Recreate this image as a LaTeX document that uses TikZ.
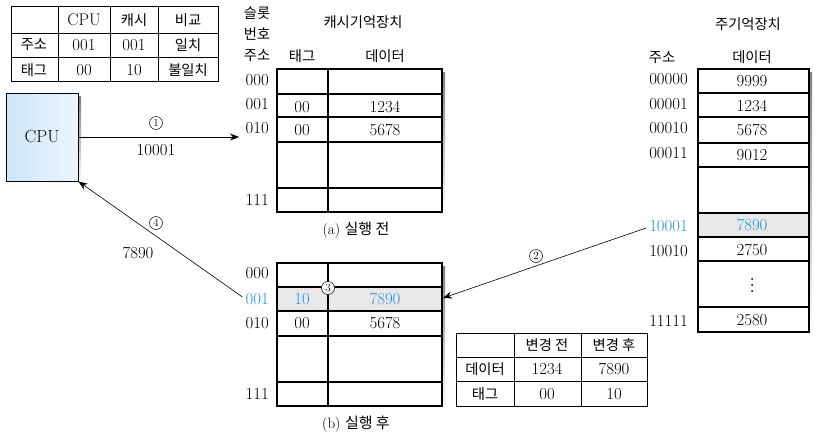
\documentclass[tikz,border=0pt]{standalone}
\usepackage{fontspec}
\newfontfamily\kr{Noto Sans CJK KR}
\usetikzlibrary{arrows.meta}
\definecolor{hl}{RGB}{40,150,220}
\definecolor{rowgray}{RGB}{232,232,232}
\definecolor{shade}{RGB}{205,205,205}
\definecolor{cpul}{RGB}{205,228,248}
\definecolor{cpur}{RGB}{236,245,253}
\begin{document}
\begin{tikzpicture}[x=1pt,y=-1pt,
  num/.style={font=\fontsize{16.8}{16.8}\selectfont, inner sep=0},
  ko/.style={font=\kr\fontsize{14.3}{14.3}\selectfont, inner sep=0},
  thin grid/.style={line width=0.8pt},
  thick grid/.style={line width=1.1pt},
  arr/.style={-{Stealth[length=9pt,width=7pt]}, line width=0.6pt},
  numc/.style={circle, draw, line width=0.5pt, inner sep=0, minimum size=13pt, font=\fontsize{11}{11}\selectfont},
  hlt/.style={text=hl}
]
\useasboundingbox (0,0) rectangle (817,437);

% ---------- top-left comparison table ----------
\draw[thin grid] (11,6) rectangle (218,81);
\draw[thin grid] (11,33) -- (218,33) (11,57) -- (218,57)
  (58,6) -- (58,81) (110,6) -- (110,81) (158,6) -- (158,81);
\node[num] (t1a) at (84,20) {CPU};
\node[ko]  (t1b) at (134,20) {캐시};
\node[ko]  (t1c) at (188,20) {비교};
\node[ko]  (t2a) at (34,45) {주소};
\node[num] (t2b) at (84,45) {001};
\node[num] (t2c) at (134,45) {001};
\node[ko]  (t2d) at (188,45) {일치};
\node[ko]  (t3a) at (34,70) {태그};
\node[num] (t3b) at (84,70) {00};
\node[num] (t3c) at (134,70) {10};
\node[ko]  (t3d) at (188,70) {불일치};

% ---------- CPU ----------
\fill[shade] (9,96) rectangle (81,184);
\node[draw, line width=1pt, left color=cpul, right color=cpur, minimum width=72pt, minimum height=88pt,
  inner sep=0, font=\fontsize{17.5}{17.5}\selectfont] (cpu) at (42,137) {CPU};

% ---------- cache (a) ----------
\node[ko] (slot1) at (257,13) {슬롯};
\node[ko] (slot2) at (257,34) {번호};
\node[ko] (ctitle) at (363,22) {캐시기억장치};
\node[ko] (caddr) at (257,56) {주소};
\node[ko] (ctag) at (302,56) {태그};
\node[ko] (cdata) at (385,56) {데이터};
\fill[shade] (280,72) rectangle (445,215);
\fill[white] (277,69) rectangle (442,212);
\draw[thick grid] (277,69) rectangle (442,212);
\draw[thick grid] (277,94) -- (442,94) (277,117) -- (442,117) (277,142) -- (442,142) (277,188) -- (442,188)
  (328,69) -- (328,212);
\node[num, anchor=east] (a000) at (269,80) {000};
\node[num, anchor=east] (a001) at (269,104) {001};
\node[num, anchor=east] (a010) at (269,128) {010};
\node[num, anchor=east] (a111) at (269,200) {111};
\node[num] (a1t) at (302,107) {00};
\node[num] (a1d) at (385,107) {1234};
\node[num] (a2t) at (302,130) {00};
\node[num] (a2d) at (385,130) {5678};
\node[font=\fontsize{15}{15}\selectfont, inner sep=0] (capa) at (356,230) {(a) {\kr 실행 전}};

% ---------- cache (b) ----------
\fill[shade] (280,266) rectangle (445,409);
\fill[white] (277,263) rectangle (442,406);
\fill[rowgray] (277,287) rectangle (442,311);
\draw[thick grid] (277,263) rectangle (442,406);
\draw[thick grid] (277,287) -- (442,287) (277,311) -- (442,311) (277,336) -- (442,336) (277,382) -- (442,382)
  (328,263) -- (328,406);
\node[num, anchor=east] (b000) at (269,273) {000};
\node[num, anchor=east, hlt] (b001) at (269,299) {001};
\node[num, anchor=east] (b010) at (269,323) {010};
\node[num, anchor=east] (b111) at (269,394) {111};
\node[num, hlt] (b1t) at (302,299) {10};
\node[num, hlt] (b1d) at (385,299) {7890};
\node[num] (b2t) at (302,323) {00};
\node[num] (b2d) at (385,323) {5678};
\node[numc, fill=white] (c3) at (328,288) {3};
\node[font=\fontsize{15}{15}\selectfont, inner sep=0] (capb) at (356,424) {(b) {\kr 실행 후}};
\coordinate (brow) at (443,298);

% ---------- main memory ----------
\node[ko] (mtitle) at (748,24) {주기억장치};
\node[ko] (maddr) at (662,58) {주소};
\node[ko] (mdata) at (752,57) {데이터};
\fill[shade] (701,72) rectangle (812,335);
\fill[white] (698,69) rectangle (809,332);
\fill[rowgray] (698,213) rectangle (809,237);
\draw[thick grid] (698,69) rectangle (809,332);
\draw[thick grid] (698,93) -- (809,93) (698,117) -- (809,117) (698,143) -- (809,143) (698,167) -- (809,167)
  (698,213) -- (809,213) (698,237) -- (809,237) (698,261) -- (809,261) (698,307) -- (809,307);
\node[num, anchor=east] (m0) at (688,79) {00000};
\node[num, anchor=east] (m1) at (688,104) {00001};
\node[num, anchor=east] (m2) at (688,128) {00010};
\node[num, anchor=east] (m3) at (688,153) {00011};
\node[num, anchor=east, hlt] (m17) at (688,226) {10001};
\node[num, anchor=east] (m18) at (688,251) {10010};
\node[num, anchor=east] (m31) at (688,321) {11111};
\node[num] (d0) at (752,81) {9999};
\node[num] (d1) at (752,106) {1234};
\node[num] (d2) at (752,130) {5678};
\node[num] (d3) at (752,155) {9012};
\node[num, hlt] (d17) at (752,225) {7890};
\node[num] (d18) at (752,250) {2750};
\foreach \yy in {279,285,291} \fill (752,\yy) circle (1pt);
\node[num] (d31) at (752,320) {2580};

% ---------- change table ----------
\draw[thin grid] (456,333) rectangle (647,406);
\draw[thin grid] (456,357) -- (647,357) (456,381) -- (647,381)
  (514,333) -- (514,406) (581,333) -- (581,406);
\node[ko] (h1) at (547,345) {변경 전};
\node[ko] (h2) at (614,345) {변경 후};
\node[ko] (r1) at (485,369) {데이터};
\node[num] (r1a) at (547,369) {1234};
\node[num] (r1b) at (614,369) {7890};
\node[ko] (r2) at (485,394) {태그};
\node[num] (r2a) at (547,394) {00};
\node[num] (r2b) at (614,394) {10};

% ---------- connectors ----------
\coordinate (a1end) at (239,137);
\draw[arr] (cpu.east |- a1end) -- (a1end);
\node[numc] (c1) at (156,123) {1};
\node[num] (l1) at (156,150) {10001};

\draw[arr] (m17.west) ++(-3,2) -- (brow);
\node[numc] (c2) at (536,256) {2};

\draw[arr] (b001.west) ++(-3,-2) -- (cpu.south east);
\node[numc] (c4) at (156,223) {4};
\node[num] (l4) at (138,253) {7890};
\end{tikzpicture}
\end{document}
